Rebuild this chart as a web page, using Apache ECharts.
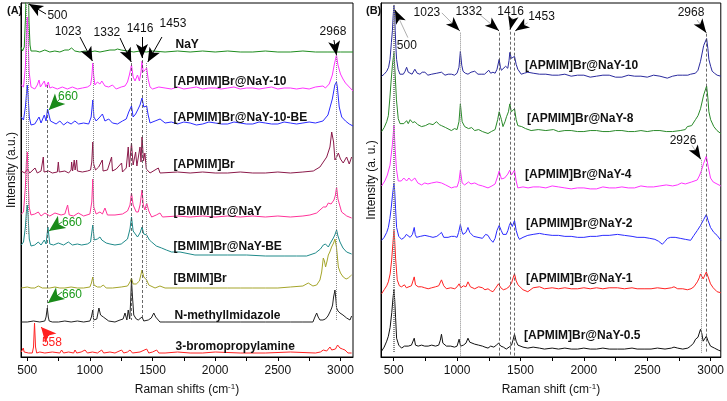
<!DOCTYPE html>
<html><head><meta charset="utf-8">
<script src="https://cdn.jsdelivr.net/npm/echarts@6/dist/echarts.min.js"></script>
<style>html,body{margin:0;padding:0;background:#fff}#c{width:727px;height:401px}</style>
</head><body><div id="c"></div>
<script>
// ---------------- Panel A data (Raman shift cm-1, intensity a.u.) ----------------
const namesA = ['NaY','[APMIM]Br@NaY-10','[APMIM]Br@NaY-10-BE','[APMIM]Br','[BMIM]Br@NaY','[BMIM]Br@NaY-BE','[BMIM]Br','N-methyllmidazole','3-bromopropylamine'];
const specNaY = [[450,310],[462,306],[476,310],[486,340],[493,380],[500,420],[507,380],[514,335],[522,312],[530,306],[545,305],[570,306],[600,305],[640,307],[680,305],[720,306],[760,305],[800,307],[830,307],[854,309],[880,306],[920,305],[960,306],[1000,305],[1040,306],[1080,305],[1120,306],[1160,307],[1200,307],[1220,308],[1250,307],[1300,306],[1350,305],[1400,306],[1450,305],[1500,306],[1600,305],[1700,306],[1800,305],[1900,306],[2000,305],[2100,306],[2200,305],[2300,305],[2400,306],[2500,305],[2600,305],[2700,306],[2800,305],[2900,305],[3000,305],[3100,305]];
const specApNaY10 = [[452,272],[470,270],[485,290],[493,320],[500,340],[507,318],[515,285],[530,270],[560,268],[580,272],[594,277],[605,270],[620,273],[636,276],[648,270],[668,275],[680,269],[700,270],[740,268],[780,270],[820,268],[860,270],[900,268],[940,269],[980,270],[1005,272],[1015,280],[1023,294],[1030,282],[1040,272],[1060,275],[1080,273],[1095,276],[1107,278],[1120,271],[1150,270],[1180,272],[1210,268],[1250,270],[1280,271],[1300,275],[1315,282],[1332,292],[1345,280],[1360,276],[1380,282],[1395,276],[1408,285],[1416,296],[1425,285],[1435,283],[1453,289],[1465,278],[1480,270],[1500,268],[1550,270],[1600,269],[1650,268],[1700,270],[1750,268],[1800,269],[1850,270],[1900,268],[1950,269],[2000,269],[2050,268],[2100,269],[2150,270],[2200,268],[2250,269],[2300,269],[2350,268],[2400,269],[2450,270],[2500,268],[2550,269],[2600,269],[2650,268],[2700,269],[2750,268],[2800,270],[2860,271],[2880,269],[2910,273],[2935,282],[2950,292],[2968,302],[2980,292],[3000,283],[3020,278],[3040,274],[3070,270],[3100,266]];
const specApNaY10BE = [[452,240],[470,237],[485,250],[493,262],[500,272],[507,260],[516,240],[530,232],[560,233],[594,240],[610,234],[636,242],[650,236],[662,248],[668,250],[685,236],[700,235],[730,233],[760,236],[790,232],[820,235],[850,233],[880,236],[910,233],[950,234],[990,233],[1010,240],[1023,257],[1032,240],[1050,236],[1080,240],[1100,243],[1120,236],[1150,238],[1180,234],[1220,233],[1260,236],[1290,238],[1310,245],[1332,251],[1345,240],[1365,243],[1385,248],[1400,252],[1416,259],[1430,250],[1453,251],[1465,242],[1480,234],[1520,236],[1560,238],[1600,234],[1650,235],[1700,233],[1750,235],[1800,234],[1850,232],[1900,233],[1950,235],[2000,234],[2050,233],[2100,233],[2150,235],[2200,234],[2250,233],[2300,233],[2350,235],[2400,234],[2450,233],[2500,233],[2550,235],[2600,234],[2650,233],[2700,234],[2750,235],[2800,234],[2860,236],[2900,242],[2935,258],[2955,272],[2968,275],[2975,270],[2990,250],[3010,240],[3040,236],[3070,233],[3100,231]];
const specApBr = [[452,186],[480,184],[500,188],[520,184],[562,189],[580,184],[610,186],[622,185],[628,200],[634,185],[670,186],[700,184],[740,185],[748,195],[755,185],[800,186],[830,184],[850,187],[854,195],[862,186],[875,197],[882,187],[894,197],[900,186],[940,185],[980,186],[1005,187],[1015,195],[1023,215],[1030,193],[1045,187],[1070,190],[1099,197],[1105,186],[1140,187],[1173,200],[1180,186],[1210,188],[1253,194],[1260,185],[1290,189],[1306,210],[1315,190],[1332,214],[1345,192],[1365,205],[1375,191],[1400,210],[1408,195],[1416,220],[1428,196],[1439,204],[1450,188],[1480,184],[1546,189],[1560,184],[1700,185],[1800,184],[1900,185],[2000,184],[2100,184],[2200,185],[2300,184],[2400,184],[2500,185],[2600,184],[2700,185],[2783,186],[2836,190],[2890,200],[2916,210],[2930,225],[2937,227],[2945,215],[2956,197],[2970,200],[2983,204],[3000,198],[3022,194],[3049,200],[3070,193],[3089,200]];
const specBmNaY = [[452,143],[470,145],[485,170],[493,195],[500,205],[507,180],[515,150],[530,142],[560,143],[588,145],[610,141],[641,144],[680,141],[721,144],[770,142],[800,143],[822,152],[835,142],[870,141],[907,144],[950,141],[1000,143],[1015,155],[1023,178],[1031,150],[1050,143],[1080,145],[1100,143],[1120,149],[1140,142],[1200,142],[1260,143],[1300,146],[1320,152],[1332,164],[1345,152],[1370,145],[1386,145],[1400,152],[1416,167],[1426,152],[1439,147],[1453,154],[1470,146],[1493,140],[1530,142],[1559,144],[1580,140],[1700,141],[1800,140],[1900,141],[2000,140],[2100,141],[2200,140],[2300,141],[2400,140],[2500,141],[2600,140],[2700,141],[2756,142],[2810,144],[2863,150],[2885,150],[2903,154],[2925,153],[2948,157],[2960,162],[2969,170],[2980,158],[3009,145],[3050,141],[3089,139]];
const specBmNaYBE = [[452,112],[470,115],[485,130],[493,145],[500,152],[507,140],[516,118],[530,111],[560,112],[588,115],[610,112],[636,117],[650,113],[665,130],[680,113],[710,112],[748,114],[790,112],[828,115],[860,112],[900,113],[934,112],[980,113],[1005,115],[1023,132],[1035,117],[1060,118],[1080,120],[1095,117],[1107,119],[1130,114],[1160,113],[1200,112],[1250,113],[1300,118],[1320,128],[1332,140],[1345,126],[1360,124],[1380,120],[1400,124],[1416,130],[1430,123],[1453,122],[1475,117],[1493,115],[1530,111],[1572,109],[1610,107],[1652,105],[1719,105],[1838,102],[1950,102],[2100,102],[2251,102],[2400,101],[2550,101],[2650,101],[2730,101],[2800,104],[2840,108],[2863,112],[2880,113],[2903,110],[2920,114],[2943,119],[2955,122],[2969,127],[2980,121],[2996,115],[3020,109],[3049,105],[3089,103]];
const specBmBr = [[452,69],[500,70],[530,69],[560,69],[588,71],[620,69],[680,69],[721,70],[760,69],[800,69],[850,70],[900,69],[950,69],[1000,70],[1012,74],[1023,80],[1032,72],[1060,70],[1085,70],[1107,72],[1130,69],[1180,69],[1250,70],[1300,71],[1320,75],[1332,79],[1345,73],[1370,73],[1395,76],[1416,87],[1430,80],[1453,77],[1470,72],[1480,70],[1520,69],[1559,71],[1600,69],[1700,69],[1800,69],[1900,69],[2000,69],[2100,69],[2200,69],[2300,69],[2400,69],[2500,69],[2600,70],[2700,71],[2743,74],[2780,71],[2810,72],[2836,77],[2850,85],[2863,99],[2872,96],[2881,90],[2893,96],[2903,102],[2915,105],[2929,110],[2945,114],[2956,118],[2968,110],[2983,90],[3000,84],[3022,80],[3045,78],[3062,79],[3080,81],[3089,82]];
const specNMIm = [[452,35],[500,35],[550,36],[600,35],[640,36],[650,40],[660,49],[668,40],[675,36],[700,35],[750,35],[800,36],[850,35],[900,36],[950,35],[1000,36],[1012,40],[1023,47],[1030,37],[1055,38],[1072,49],[1085,42],[1107,40],[1150,36],[1200,35],[1240,37],[1265,38],[1280,44],[1295,37],[1306,47],[1318,38],[1325,55],[1332,77],[1340,60],[1350,42],[1370,38],[1386,37],[1400,38],[1416,40],[1430,36],[1466,37],[1490,39],[1510,44],[1525,40],[1559,35],[1600,35],[1800,35],[2000,35],[2200,35],[2400,35],[2600,35],[2700,35],[2780,35],[2796,40],[2810,44],[2822,40],[2836,37],[2860,37],[2880,38],[2900,41],[2916,45],[2930,49],[2937,52],[2945,60],[2956,67],[2963,58],[2969,49],[2980,46],[2996,44],[3020,42],[3049,39],[3076,37],[3089,41]];
const specBrPA = [[452,5],[462,7],[468,9],[475,5],[480,4],[510,4],[540,4],[550,10],[558,34],[566,10],[575,4],[600,5],[640,4],[700,5],[760,4],[774,7],[790,4],[830,5],[870,4],[881,7],[895,4],[930,5],[961,7],[980,4],[1020,5],[1060,4],[1094,7],[1110,4],[1160,5],[1200,4],[1253,7],[1270,4],[1300,5],[1320,7],[1340,4],[1400,5],[1453,8],[1470,4],[1500,5],[1533,7],[1550,4],[1600,4],[1700,5],[1800,4],[1900,4],[2000,5],[2200,4],[2400,4],[2600,5],[2800,4],[2840,5],[2863,7],[2890,6],[2916,10],[2930,7],[2943,9],[2960,8],[2977,12],[2996,9],[3015,8],[3036,7],[3060,4],[3089,4]];

// ---------------- Panel B data ----------------
const namesB = ['[APMIM]Br@NaY-10','[APMIM]Br@NaY-8','[APMIM]Br@NaY-4','[APMIM]Br@NaY-2','[APMIM]Br@NaY-1','[APMIM]Br@NaY-0.5'];
const specB10 = [[405,284],[425,286],[445,289],[460,293],[471,301],[482,318],[490,330],[496,345],[502,356],[508,345],[512,330],[518,312],[523,301],[535,291],[549,286],[562,287],[576,286],[590,289],[602,293],[615,288],[628,289],[645,286],[667,291],[685,287],[707,286],[725,288],[746,288],[770,285],[800,286],[840,287],[877,288],[905,285],[930,286],[955,286],[980,285],[1000,287],[1015,293],[1026,309],[1037,295],[1047,289],[1065,287],[1086,286],[1110,288],[1139,289],[1165,286],[1190,286],[1217,286],[1250,290],[1265,287],[1283,288],[1300,287],[1315,291],[1332,301],[1342,293],[1350,290],[1362,289],[1383,294],[1400,292],[1410,300],[1416,308],[1428,302],[1440,303],[1453,304],[1466,296],[1479,291],[1506,286],[1530,287],[1558,288],[1600,287],[1650,286],[1700,286],[1750,285],[1800,285],[1850,286],[1900,284],[1950,285],[2000,285],[2050,283],[2100,284],[2150,285],[2200,285],[2250,283],[2300,283],[2350,285],[2400,284],[2450,284],[2500,283],[2550,285],[2600,284],[2658,282],[2700,284],[2740,285],[2780,285],[2820,285],[2842,286],[2880,287],[2900,290],[2920,299],[2945,315],[2968,322],[2978,312],[2986,301],[3000,294],[3012,289],[3030,287],[3051,285],[3080,284]];
const specB8 = [[405,228],[425,232],[445,238],[458,244],[470,262],[479,278],[490,295],[502,308],[512,285],[522,260],[536,241],[550,236],[565,238],[580,236],[602,239],[615,236],[630,240],[650,237],[667,238],[690,235],[720,233],[750,234],[780,236],[810,235],[838,238],[860,235],[877,234],[910,232],[955,229],[980,231],[1000,230],[1015,238],[1026,256],[1040,238],[1060,233],[1090,231],[1115,232],[1139,229],[1170,230],[1200,228],[1244,226],[1270,228],[1300,230],[1320,240],[1332,248],[1350,240],[1362,233],[1378,238],[1390,243],[1405,248],[1416,256],[1428,248],[1440,246],[1453,251],[1466,240],[1479,234],[1510,233],[1540,231],[1584,229],[1640,230],[1700,229],[1760,230],[1800,228],[1850,229],[1900,229],[1950,228],[2000,228],[2050,229],[2100,229],[2150,228],[2200,228],[2250,229],[2300,229],[2350,228],[2400,228],[2450,229],[2500,228],[2550,229],[2600,229],[2650,228],[2700,228],[2760,229],[2800,230],[2816,233],[2850,234],[2880,240],[2900,244],[2920,251],[2945,265],[2968,274],[2978,262],[2986,248],[3000,240],[3025,233],[3050,229],[3080,226]];
const specB4 = [[405,173],[430,178],[450,184],[471,194],[490,215],[502,234],[512,210],[522,190],[536,178],[560,178],[580,181],[602,178],[620,181],[640,178],[667,181],[690,176],[720,174],[745,176],[770,175],[800,176],[840,177],[877,176],[910,174],[955,171],[980,172],[1000,172],[1015,178],[1026,189],[1040,176],[1060,174],[1090,177],[1110,175],[1139,176],[1170,174],[1200,173],[1244,171],[1275,173],[1300,175],[1318,182],[1332,188],[1350,180],[1365,178],[1375,181],[1390,180],[1400,185],[1416,189],[1428,184],[1440,186],[1453,189],[1466,178],[1479,171],[1520,172],[1560,171],[1600,172],[1650,172],[1700,171],[1750,173],[1800,172],[1850,171],[1900,170],[1950,171],[2000,171],[2050,170],[2100,170],[2150,172],[2200,171],[2250,171],[2300,172],[2350,171],[2400,171],[2450,173],[2500,172],[2550,172],[2600,173],[2650,174],[2700,173],[2737,174],[2770,176],[2800,175],[2850,177],[2894,179],[2910,183],[2926,188],[2945,196],[2966,203],[2980,193],[2999,181],[3020,177],[3050,175],[3080,173]];
const specB2 = [[405,118],[425,121],[445,126],[458,131],[470,140],[480,150],[490,163],[502,176],[508,168],[515,150],[523,131],[540,122],[562,119],[585,121],[600,124],[615,123],[630,121],[648,124],[662,131],[670,124],[680,121],[710,122],[746,123],[780,122],[810,121],[840,122],[860,124],[877,126],[895,121],[929,121],[955,122],[980,122],[1000,121],[1012,126],[1026,134],[1038,127],[1047,124],[1070,126],[1086,131],[1100,126],[1130,122],[1165,121],[1200,120],[1225,124],[1244,123],[1262,119],[1283,116],[1300,120],[1315,128],[1332,133],[1348,128],[1362,124],[1375,126],[1388,124],[1401,128],[1412,133],[1422,136],[1436,132],[1453,138],[1466,128],[1480,122],[1492,119],[1520,121],[1558,123],[1600,124],[1650,125],[1689,124],[1750,123],[1800,123],[1850,122],[1900,122],[1951,121],[2000,121],[2050,122],[2100,122],[2150,123],[2200,123],[2265,124],[2320,123],[2380,122],[2420,121],[2475,121],[2520,120],[2560,119],[2590,117],[2619,114],[2640,117],[2660,120],[2685,121],[2720,121],[2760,120],[2800,119],[2842,118],[2868,123],[2895,128],[2920,133],[2945,139],[2966,144],[2980,138],[2999,131],[3025,126],[3051,123],[3080,118]];
const specB1 = [[405,64],[425,68],[445,72],[458,76],[472,84],[484,98],[494,115],[502,128],[508,118],[515,100],[528,78],[545,72],[562,71],[585,73],[600,70],[615,71],[640,72],[662,81],[672,73],[693,71],[720,71],[745,70],[772,69],[800,70],[830,71],[855,72],[877,78],[895,72],[916,69],[950,70],[982,69],[1000,71],[1016,74],[1030,70],[1050,72],[1070,71],[1086,76],[1105,71],[1139,69],[1170,71],[1200,70],[1220,68],[1244,69],[1265,67],[1283,66],[1300,69],[1315,71],[1327,74],[1345,70],[1365,68],[1388,69],[1410,71],[1430,75],[1442,80],[1453,84],[1466,77],[1480,73],[1492,71],[1520,68],[1558,66],[1600,70],[1650,71],[1689,69],[1750,70],[1800,69],[1850,70],[1900,69],[1951,69],[2000,70],[2050,69],[2100,70],[2150,69],[2200,70],[2265,70],[2320,69],[2380,70],[2420,69],[2475,69],[2530,69],[2580,70],[2640,69],[2690,70],[2711,71],[2740,69],[2780,69],[2816,68],[2845,69],[2868,71],[2895,76],[2910,80],[2920,84],[2930,82],[2941,79],[2955,83],[2966,86],[2980,81],[2999,74],[3020,70],[3051,66],[3080,65]];
const specB05 = [[405,6],[425,10],[445,16],[458,21],[472,30],[485,45],[495,60],[502,68],[508,58],[515,40],[523,19],[540,12],[562,9],[585,11],[600,10],[615,11],[640,12],[650,14],[662,19],[672,12],[693,11],[720,12],[745,11],[772,11],[800,12],[830,11],[855,12],[868,17],[877,23],[888,14],[916,11],[950,11],[980,10],[1000,11],[1016,18],[1028,11],[1050,12],[1070,14],[1086,19],[1100,15],[1139,13],[1170,12],[1200,11],[1220,10],[1244,9],[1265,11],[1290,10],[1310,12],[1327,14],[1345,11],[1365,10],[1388,8],[1410,10],[1430,12],[1443,18],[1453,23],[1466,16],[1480,12],[1492,11],[1520,10],[1558,9],[1600,10],[1650,9],[1689,8],[1750,9],[1800,8],[1850,9],[1900,8],[1951,8],[2000,9],[2050,8],[2100,8],[2150,9],[2200,8],[2265,8],[2320,8],[2380,9],[2420,8],[2475,8],[2530,8],[2580,9],[2640,8],[2690,9],[2711,10],[2740,9],[2780,8],[2820,9],[2842,11],[2865,14],[2881,18],[2900,20],[2920,28],[2930,24],[2941,16],[2955,18],[2966,21],[2980,16],[2999,11],[3030,9],[3060,7],[3080,6]];

// tick values
const tickLabels = [500,1000,1500,2000,2500,3000];
const tickMarks = [500,750,1000,1250,1500,1750,2000,2250,2500,2750,3000];

const colorsA = ['#1e8c1e','#ff33ff','#2b2bff','#8b1a4a','#ff3399','#1f8a8a','#a5a52a','#222222','#ff2222'];
const colorsB = ['#2a2a9e','#2a8a2a','#ff33ff','#2b2bff','#ff2222','#111111'];
const specsA = [specNaY,specApNaY10,specApNaY10BE,specApBr,specBmNaY,specBmNaYBE,specBmBr,specNMIm,specBrPA];
const specsB = [specB10,specB8,specB4,specB2,specB1,specB05];
// label anchor (left-middle) for each trace name, in data units
const labAnchorA = [[1679,312],[1663,275],[1663,239],[1663,192],[1663,145],[1663,110],[1663,78],[1671,41],[1679,10]];
const labAnchorB = [[1532,295],[1548,241],[1532,184],[1540,135],[1540,79],[1524,22]];

const FONT = 'Liberation Sans, Arial, sans-serif';
const GRAY = {color:'#8a8a8a', type:'dotted', width:1};
const DARK = {color:'#444', type:[3,2], width:0.8};

function vline(x, y1, y2, st){ return [{coord:[x,y1], symbol:'none', lineStyle:st},{coord:[x,y2], symbol:'none', lineStyle:st}]; }
function arrow(x1,y1,x2,y2,color,size){
  const st = {color, type:'solid', width:1};
  return [[{coord:[x1,y1], symbol:'none', lineStyle:st},{coord:[x2,y2], symbol:'arrow', symbolSize:size, lineStyle:st}]];
}
// thin gray shaft with black head
function arrow2(x1,y1,x2,y2,size){
  const g = {color:'#9a9a9a', type:'solid', width:0.8};
  const k = {color:'#000', type:'solid', width:1};
  const t = 0.85, mx = x1 + (x2-x1)*t, my = y1 + (y2-y1)*t;
  return [[{coord:[x1,y1], symbol:'none', lineStyle:g},{coord:[mx,my], symbol:'none', lineStyle:g}],
          [{coord:[mx,my], symbol:'none', lineStyle:k},{coord:[x2,y2], symbol:'arrow', symbolSize:size, lineStyle:k}]];
}
function txt(x,y,t,color){ return {coord:[x,y], symbol:'circle', symbolSize:1, itemStyle:{color:'rgba(0,0,0,0)'},
  label:{show:true, position:'inside', formatter:t, color:color||'#111', fontSize:12, fontFamily:FONT}}; }

const annotLinesA = [
  vline(495,354,122,GRAY), vline(505,354,122,GRAY), vline(660,272,49,DARK), vline(1023,294,29,GRAY),
  vline(1332,294,37,DARK), vline(1416,297,39,DARK), vline(1453,294,68,GRAY), vline(2968,302,37,GRAY)]
  .concat(arrow(650,343,514,353,'#000',[9,14]), arrow(921,320,1020,296,'#000',[9,14]),
  arrow(1240,319,1330,295,'#000',[9,14]), arrow(1416,320,1416,299,'#000',[9,14]),
  arrow(1575,320,1462,295,'#000',[9,14]), arrow(2948,317,2968,302,'#000',[9,14]),
  arrow(760,258,672,247,'#1a8a1a',[11,16]), arrow(777,135,673,126,'#1a8a1a',[11,16]),
  arrow(777,65,665,54,'#1a8a1a',[11,16]), arrow(673,21,610,30,'#ff2020',[11,15]));
const annotTextA = [txt(741,341,'500'), txt(825,325,'1023'), txt(1136,324,'1332'), txt(1400,328,'1416'),
  txt(1663,333,'1453'), txt(2940,325,'2968'), txt(825,260,'660','#1a9a1a'), txt(857,134,'660','#1a9a1a'),
  txt(857,62,'660','#1a9a1a'), txt(697,14,'558','#ff2020')];

const annotLinesB = [
  vline(495,358,4,GRAY), vline(505,358,4,GRAY), vline(1023,328,1,GRAY), vline(1332,328,1,DARK),
  vline(1416,329,1,DARK), vline(1453,328,1,DARK), vline(2926,199,4,GRAY), vline(2968,327,4,DARK)]
  .concat(arrow2(612,323,510,351,[8,14]), arrow2(880,348,1020,330,[8,14]),
  arrow2(1163,348,1330,330,[8,14]), arrow2(1440,343,1418,331,[8,14]),
  arrow2(1556,338,1460,330,[8,14]), arrow2(2892,341,2965,328,[8,14]),
  arrow2(2853,214,2922,200,[8,14]));
const annotTextB = [txt(604,315,'500'), txt(762,348,'1023'), txt(1092,349,'1332'), txt(1422,349,'1416'),
  txt(1666,344,'1453'), txt(2845,348,'2968'), txt(2782,219,'2926')];

function traceSeries(name, data, color, gi, anchor, extraLines, extraText){
  const s = {
    type:'line', name, data, xAxisIndex:gi, yAxisIndex:gi, symbol:'none', showSymbol:false,
    lineStyle:{color, width:1}, itemStyle:{color}, animation:false, silent:true, z:3, clip:true,
    markPoint:{silent:true, animation:false,
      data:[{coord:anchor, symbol:'circle', symbolSize:1, itemStyle:{color:'rgba(0,0,0,0)'},
        label:{show:true, position:'right', distance:0, formatter:name, color:'#111', fontWeight:'bold', fontSize:12, fontFamily:FONT}}]
        .concat(extraText||[])}
  };
  if (extraLines) s.markLine = {silent:true, animation:false, symbol:'none', label:{show:false}, data:extraLines};
  return s;
}

const series = [];
specsA.forEach((d,i)=>series.push(traceSeries(namesA[i], d, colorsA[i], 0, labAnchorA[i], i===0?annotLinesA:null, i===0?annotTextA:null)));
specsB.forEach((d,i)=>series.push(traceSeries(namesB[i], d, colorsB[i], 1, labAnchorB[i], i===0?annotLinesB:null, i===0?annotTextB:null)));

function xAx(gi, min, max, name){
  return {type:'value', gridIndex:gi, min, max, name, nameLocation:'middle', nameGap:26,
    nameTextStyle:{fontSize:12, color:'#111', fontFamily:FONT, rich:{sup:{fontSize:8, verticalAlign:'top', padding:[0,0,6,0], color:'#111', fontFamily:FONT}}},
    axisLine:{show:true, lineStyle:{color:'#000', width:1}},
    axisTick:{show:true, inside:false, length:4, customValues:tickMarks, lineStyle:{color:'#000'}},
    axisLabel:{show:true, customValues:tickLabels, margin:8, fontSize:12, color:'#111', fontFamily:FONT, formatter:(v)=>String(v)},
    splitLine:{show:false}};
}
function yAx(gi, max, name, pad){
  return {type:'value', gridIndex:gi, min:0, max, name, nameLocation:'middle', nameGap:3,
    nameTextStyle:{fontSize:12, color:'#111', fontFamily:FONT, padding:pad},
    axisLine:{show:true, lineStyle:{color:'#000'}}, axisTick:{show:false}, axisLabel:{show:false}, splitLine:{show:false}};
}

const chart = echarts.init(document.getElementById('c'), null, {renderer:'canvas'});
chart.setOption({
  backgroundColor:'#fff',
  animation:false,
  title:[{text:'(A)', left:2, top:0, textStyle:{fontSize:11, fontWeight:'bold', color:'#111', fontFamily:FONT}},
         {text:'(B)', left:361, top:0, textStyle:{fontSize:11, fontWeight:'bold', color:'#111', fontFamily:FONT}}],
  grid:[{left:21, top:3, width:332, height:354, show:true, borderColor:'#000', borderWidth:1, backgroundColor:'transparent'},
        {left:381, top:3, width:341, height:358, show:true, borderColor:'#000', borderWidth:1, backgroundColor:'transparent'}],
  xAxis:[xAx(0,450,3100,'Raman shifts (cm{sup|-1})'), xAx(1,400,3080,'Raman shift (cm{sup|-1})')],
  yAxis:[yAx(0,354,'Intensity (a.u.)',[0,0,0,20]), yAx(1,358,'Intensity (a. u.)',[0,0,0,0])],
  series
});
</script></body></html>
